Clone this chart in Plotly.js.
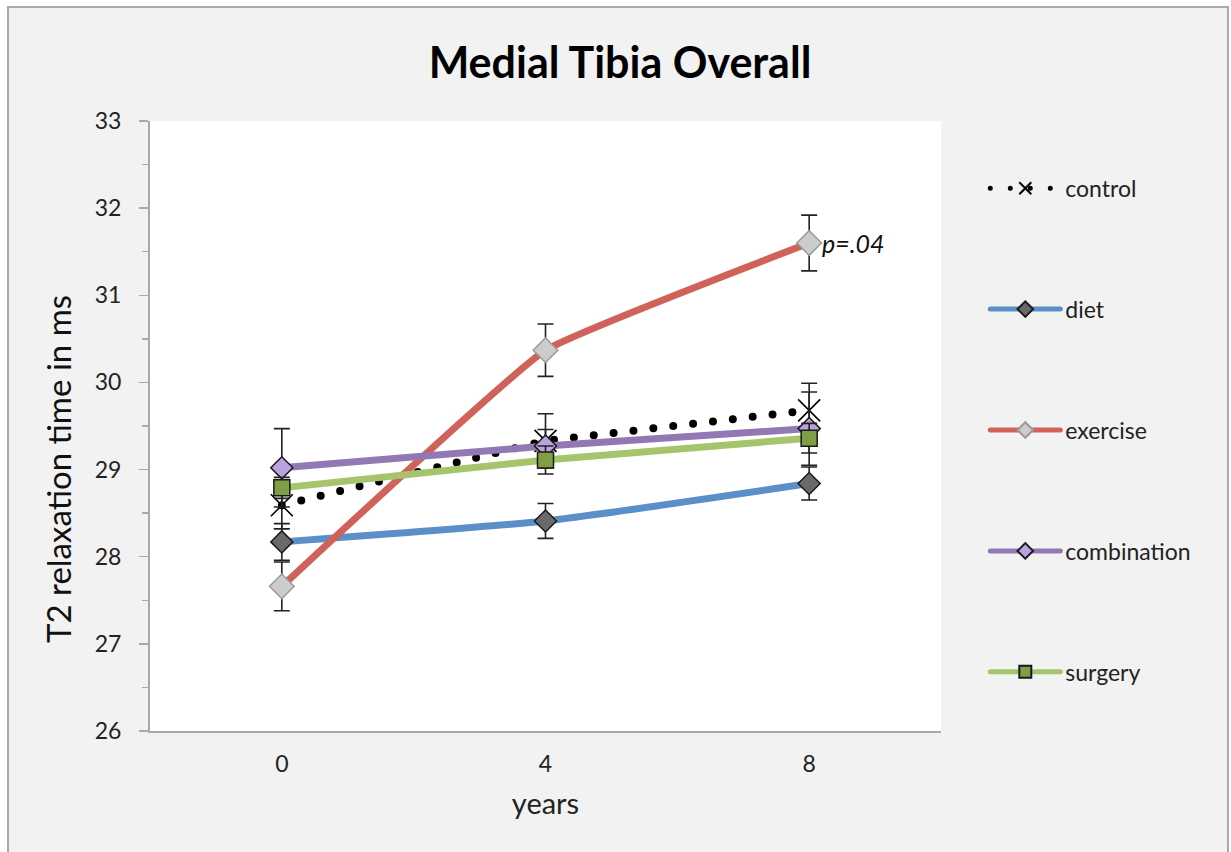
<!DOCTYPE html>
<html>
<head>
<meta charset="utf-8">
<script src="https://cdn.plot.ly/plotly-3.0.1.min.js"></script>
<style>
  html, body { margin: 0; padding: 0; background: #ffffff; }
  #frame { position: absolute; left: 7px; top: 6px; width: 1222px; height: 846px; background: #f2f2f2;
           border-left: 2px solid #a9a9a9; border-top: 2px solid #a9a9a9; border-right: 2px solid #a9a9a9; box-sizing: border-box; }
  #chart { position: absolute; left: 0; top: 0; width: 1231px; height: 852px; }
  #chart path.js-line { stroke-linecap: round; stroke-linejoin: round; }
</style>
</head>
<body>
<div id="frame"></div>
<div id="chart"></div>
<script>
// ---- data ----
const years = [0, 4, 8];
const tickLabels = ['0', '4', '8'];

const control     = [28.59, 29.33, 29.68];
const controlErr  = [0.27, 0.31, 0.31];
const diet        = [28.17, 28.41, 28.84];
const dietErr     = [0.21, 0.20, 0.19];
const exercise    = [27.66, 30.37, 31.60];
const exerciseErr = [0.28, 0.30, 0.32];
const combination = [29.02, 29.27, 29.47];
const combinationErr = [0.45, 0.19, 0.42];
const surgery     = [28.79, 29.11, 29.36];
const surgeryErr  = [0.12, 0.16, 0.17];

const seriesNames = ['control', 'diet', 'exercise', 'combination', 'surgery'];
const pLabel = 'p=.04';
const yTitle = 'T2 relaxation time in ms';

const FONT = 'Lato, "Open Sans", sans-serif';

function errY(arr) {
  return { type: 'data', array: arr, visible: true, color: '#222222', thickness: 1.6, width: 8 };
}

const traces = [
  {
    x: years, y: control, name: seriesNames[0], legendgroup: 'g0', mode: 'lines+markers',
    line: { color: '#000000', width: 8, dash: '0px,20px' },
    marker: { symbol: 'x-thin-open', size: 22, color: '#000000', line: { color: '#000000', width: 1.6 } },
    error_y: errY(controlErr)
  },
  {
    x: years, y: diet, name: seriesNames[1], legendgroup: 'g1', mode: 'lines+markers',
    line: { color: '#5b8fc8', width: 7, shape: 'spline', smoothing: 0.5 },
    marker: { symbol: 'diamond', size: 17, color: '#6a6a6a', line: { color: '#1a1a1a', width: 1.5 } },
    error_y: errY(dietErr)
  },
  {
    x: years, y: exercise, name: seriesNames[2], legendgroup: 'g2', mode: 'lines+markers',
    line: { color: '#d0625a', width: 7, shape: 'spline', smoothing: 0.3 },
    marker: { symbol: 'diamond', size: 19, color: '#cccccc', line: { color: '#9a9a9a', width: 1.5 } },
    error_y: errY(exerciseErr)
  },
  {
    x: years, y: combination, name: seriesNames[3], legendgroup: 'g3', mode: 'lines+markers',
    line: { color: '#9379b3', width: 7, shape: 'spline', smoothing: 0.5 },
    marker: { symbol: 'diamond', size: 17, color: '#b9a1e2', line: { color: '#1a1a1a', width: 1.5 } },
    error_y: errY(combinationErr)
  },
  {
    x: years, y: surgery, name: seriesNames[4], legendgroup: 'g4', mode: 'lines+markers',
    line: { color: '#a6c46b', width: 7, shape: 'spline', smoothing: 0.5 },
    marker: { symbol: 'square', size: 16, color: '#7f9e46', line: { color: '#1a1a1a', width: 1.5 } },
    error_y: errY(surgeryErr)
  }
];

const layout = {
  width: 1231, height: 852,
  margin: { l: 150, r: 290, t: 121, b: 121, pad: 0 },
  paper_bgcolor: 'rgba(0,0,0,0)',
  plot_bgcolor: '#ffffff',
  font: { family: FONT, size: 21, color: '#222222' },
  title: {
    text: '<b>Medial Tibia Overall</b>',
    font: { family: FONT, size: 43, color: '#000000' },
    x: 620 / 1231, xanchor: 'center', xref: 'container', y: 1 - 63 / 852, yanchor: 'middle'
  },
  showlegend: true,
  legend: {
    x: 1.056, xanchor: 'left', y: 0.925, yanchor: 'top',
    bgcolor: 'rgba(0,0,0,0)', borderwidth: 0,
    font: { family: FONT, size: 23, color: '#222222' },
    traceorder: 'grouped', tracegroupgap: 88, itemwidth: 70, itemsizing: 'constant'
  },
  xaxis: {
    range: [-2, 10], tickmode: 'array', tickvals: years, ticktext: tickLabels,
    showgrid: false, zeroline: false, showline: true, linecolor: '#a9a9a9', linewidth: 2,
    ticks: '', ticklabelstandoff: 11, tickfont: { family: FONT, size: 23, color: '#222222' },
    title: { text: 'years', font: { family: FONT, size: 29, color: '#222222' }, standoff: 18 },
    fixedrange: true
  },
  yaxis: {
    range: [26, 33], tickmode: 'linear', tick0: 26, dtick: 1,
    showgrid: false, zeroline: false, showline: true, linecolor: '#a9a9a9', linewidth: 2,
    ticks: 'outside', ticklen: 9, tickwidth: 1.5, tickcolor: '#a9a9a9', ticklabelstandoff: 13,
    minor: { dtick: 0.5, ticks: 'outside', ticklen: 6, tickwidth: 1.5, tickcolor: '#a9a9a9' },
    tickfont: { family: FONT, size: 23, color: '#222222' },
    fixedrange: true
  },
  annotations: [
    {
      x: years[2], y: exercise[2], xref: 'x', yref: 'y', text: '<i>' + pLabel + '</i>',
      showarrow: false, xanchor: 'left', yanchor: 'middle', xshift: 11,
      font: { family: FONT, size: 25, color: '#111111' }
    },
    {
      x: 0, y: 0.5, xref: 'paper', yref: 'paper', text: yTitle, textangle: -90,
      showarrow: false, xanchor: 'center', yanchor: 'middle', xshift: -92, yshift: -43,
      font: { family: FONT, size: 33, color: '#111111' }
    }
  ]
};

Plotly.newPlot('chart', traces, layout, { displayModeBar: false, staticPlot: true });
</script>
</body>
</html>
